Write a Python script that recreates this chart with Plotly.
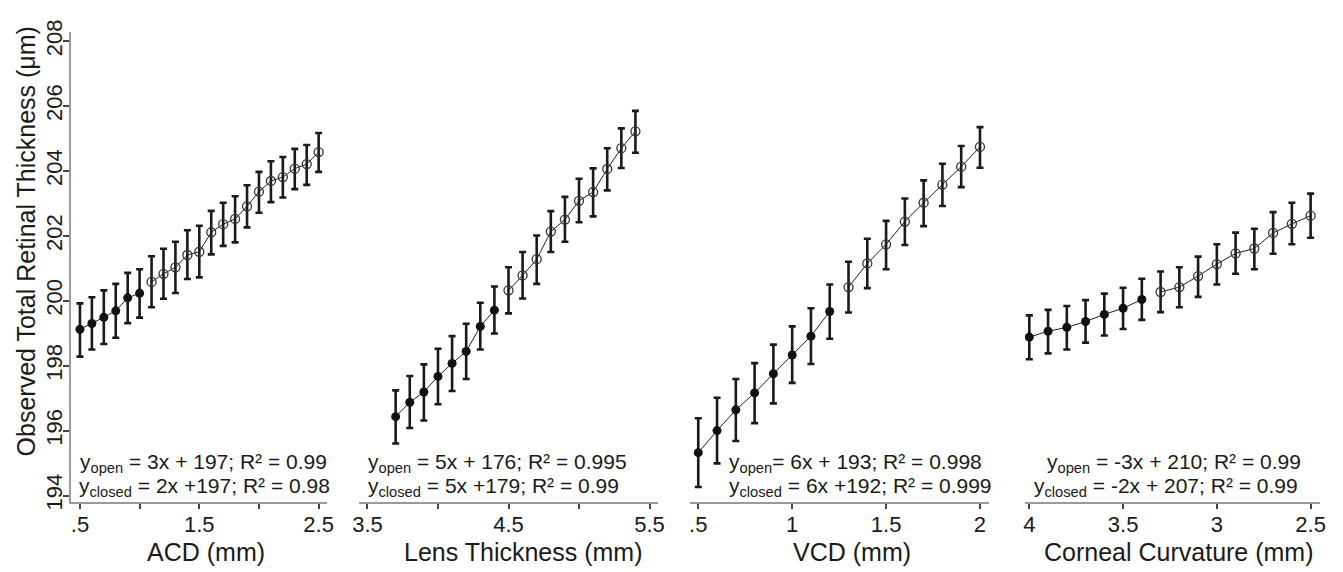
import plotly.graph_objects as go

# ---------------- data ----------------
acd_x = [0.5, 0.6, 0.7, 0.8, 0.9, 1.0, 1.1, 1.2, 1.3, 1.4, 1.5, 1.6, 1.7, 1.8, 1.9, 2.0, 2.1, 2.2, 2.3, 2.4, 2.5]
acd_y = [199.12, 199.30, 199.49, 199.69, 200.09, 200.23, 200.58, 200.83, 201.03, 201.41, 201.51,
         202.11, 202.36, 202.52, 202.91, 203.36, 203.69, 203.81, 204.07, 204.21, 204.58]
acd_hi = [199.92, 200.11, 200.32, 200.52, 200.86, 200.97, 201.37, 201.60, 201.82, 202.17, 202.31,
          202.77, 203.02, 203.22, 203.56, 203.97, 204.30, 204.43, 204.68, 204.80, 205.17]
acd_lo = [198.28, 198.50, 198.67, 198.86, 199.31, 199.48, 199.80, 200.06, 200.24, 200.67, 200.72,
          201.43, 201.69, 201.80, 202.26, 202.71, 203.04, 203.18, 203.44, 203.57, 203.97]
acd_closed_n = 6

lens_x = [3.7, 3.8, 3.9, 4.0, 4.1, 4.2, 4.3, 4.4, 4.5, 4.6, 4.7, 4.8, 4.9, 5.0, 5.1, 5.2, 5.3, 5.4]
lens_y = [196.43, 196.87, 197.19, 197.67, 198.07, 198.44, 199.21, 199.71, 200.32, 200.78, 201.28,
          202.13, 202.50, 203.08, 203.35, 204.06, 204.70, 205.22]
lens_hi = [197.24, 197.68, 198.04, 198.52, 198.91, 199.29, 199.94, 200.44, 201.03, 201.50, 202.01,
           202.76, 203.20, 203.76, 204.08, 204.70, 205.31, 205.85]
lens_lo = [195.60, 196.08, 196.31, 196.81, 197.22, 197.59, 198.50, 198.99, 199.61, 200.07, 200.52,
           201.50, 201.82, 202.42, 202.60, 203.40, 204.09, 204.56]
lens_closed_n = 8

vcd_x = [0.5, 0.6, 0.7, 0.8, 0.9, 1.0, 1.1, 1.2, 1.3, 1.4, 1.5, 1.6, 1.7, 1.8, 1.9, 2.0]
vcd_y = [195.32, 196.00, 196.64, 197.16, 197.75, 198.33, 198.91, 199.67, 200.42, 201.15, 201.74,
         202.44, 203.02, 203.58, 204.13, 204.74]
vcd_hi = [196.38, 197.01, 197.59, 198.08, 198.65, 199.21, 199.77, 200.50, 201.20, 201.91, 202.46,
          203.15, 203.71, 204.22, 204.77, 205.35]
vcd_lo = [194.26, 194.99, 195.68, 196.23, 196.84, 197.47, 198.05, 198.83, 199.64, 200.39, 200.97,
          201.72, 202.30, 202.92, 203.50, 204.10]
vcd_closed_n = 8

cc_x = [4.0, 3.9, 3.8, 3.7, 3.6, 3.5, 3.4, 3.3, 3.2, 3.1, 3.0, 2.9, 2.8, 2.7, 2.6, 2.5]
cc_y = [198.88, 199.06, 199.18, 199.36, 199.58, 199.77, 200.04, 200.27, 200.42, 200.76, 201.13,
        201.46, 201.61, 202.09, 202.37, 202.62]
cc_hi = [199.55, 199.72, 199.84, 200.02, 200.22, 200.40, 200.68, 200.90, 201.03, 201.36, 201.74,
         202.10, 202.22, 202.73, 203.02, 203.30]
cc_lo = [198.20, 198.38, 198.50, 198.71, 198.93, 199.13, 199.41, 199.65, 199.80, 200.12, 200.50,
         200.83, 200.97, 201.45, 201.74, 201.94]
cc_closed_n = 7

y_tickvals = [194, 196, 198, 200, 202, 204, 206, 208]
acd_ticks = [0.5, 1.5, 2.5]
acd_ticktext = [".5", "1.5", "2.5"]
acd_minor = [1.0, 2.0]
lens_ticks = [3.5, 4.5, 5.5]
lens_ticktext = ["3.5", "4.5", "5.5"]
lens_minor = [4.0, 5.0]
vcd_ticks = [0.5, 1.0, 1.5, 2.0]
vcd_ticktext = [".5", "1", "1.5", "2"]
vcd_minor = []
cc_ticks = [4.0, 3.5, 3.0, 2.5]
cc_ticktext = ["4", "3.5", "3", "2.5"]
cc_minor = []

y_title = "Observed Total Retinal Thickness (μm)"
x_titles = ["ACD (mm)", "Lens Thickness (mm)", "VCD (mm)", "Corneal Curvature (mm)"]
eq_open = ["y<sub>open</sub> = 3x + 197; R² = 0.99",
           "y<sub>open</sub> = 5x + 176; R² = 0.995",
           "y<sub>open</sub>= 6x + 193; R² = 0.998",
           "y<sub>open</sub> = -3x + 210; R² = 0.99"]
eq_closed = ["y<sub>closed</sub> = 2x +197; R² = 0.98",
             "y<sub>closed</sub> = 5x +179; R² = 0.99",
             "y<sub>closed</sub> = 6x +192; R² = 0.999",
             "y<sub>closed</sub> = -2x + 207; R² = 0.99"]

# ---------------- geometry ----------------
# The page body has an 8px default margin, so the figure is a bit smaller
# and positions below are given in page pixels, then shifted.
OFF = 8
W, H = 1335, 564
ML, MR, MT, MB = 63, 23, 16, 70
PW, PH = W - ML - MR, H - MT - MB


def fx(page_x):
    return (page_x - OFF - ML) / PW


def fy(page_y):
    return (H - MB - (page_y - OFF)) / PH


FONT = "Liberation Sans, Arial, sans-serif"
INK = "#1a1a1a"

fig = go.Figure()

panels = [
    (acd_x, acd_y, acd_hi, acd_lo, acd_closed_n, "x"),
    (lens_x, lens_y, lens_hi, lens_lo, lens_closed_n, "x2"),
    (vcd_x, vcd_y, vcd_hi, vcd_lo, vcd_closed_n, "x3"),
    (cc_x, cc_y, cc_hi, cc_lo, cc_closed_n, "x4"),
]

for xs, ys, hi, lo, nc, xa in panels:
    plus = [h - v for h, v in zip(hi, ys)]
    minus = [v - l for v, l in zip(ys, lo)]
    groups = [
        (slice(0, nc), dict(symbol="circle", size=9, color="#111111")),
        (slice(nc, len(xs)), dict(symbol="circle-open", size=9, color="#333333", line=dict(width=1.3))),
    ]
    for sl, mk in groups:
        fig.add_trace(go.Scatter(
            x=xs[sl], y=ys[sl], xaxis=xa, yaxis="y",
            mode="lines+markers",
            line=dict(color="#222222", width=1),
            marker=mk,
            error_y=dict(type="data", symmetric=False, array=plus[sl], arrayminus=minus[sl],
                         color=INK, thickness=2.6, width=3.5),
            showlegend=False,
        ))

axis_common = dict(showline=True, linecolor="#9a9a9a", linewidth=2, ticks="outside",
                   ticklen=5, tickwidth=1.5, tickcolor="#444444", showgrid=False,
                   zeroline=False, tickfont=dict(size=22, color=INK, family=FONT),
                   ticklabelstandoff=-3, anchor="y")

domains = [(71, 327), (359, 658), (690, 989), (1025, 1320)]
ranges = [[0.425, 2.57], [3.44, 5.56], [0.456, 2.048], [4.023, 2.45]]
ticks = [(acd_ticks, acd_ticktext, acd_minor), (lens_ticks, lens_ticktext, lens_minor),
         (vcd_ticks, vcd_ticktext, vcd_minor), (cc_ticks, cc_ticktext, cc_minor)]

layout = dict(
    width=W, height=H,
    margin=dict(l=ML, r=MR, t=MT, b=MB, pad=0),
    paper_bgcolor="white", plot_bgcolor="white",
    font=dict(family=FONT, color=INK),
    showlegend=False,
    yaxis=dict(domain=[0, 1], range=[193.80, 208.28], anchor="x",
               showline=True, linecolor="#9a9a9a", linewidth=2, ticks="outside",
               ticklen=6, tickwidth=1.5, tickcolor="#444444", showgrid=False,
               zeroline=False, tickvals=y_tickvals, tickangle=-90,
               ticklabelstandoff=-8,
               tickfont=dict(size=22, color=INK, family=FONT)),
)
for i, ((d0, d1), rg, (tv, tt, mv)) in enumerate(zip(domains, ranges, ticks)):
    key = "xaxis" if i == 0 else f"xaxis{i+1}"
    ax = dict(axis_common, domain=[max(0.0, fx(d0)), min(1.0, fx(d1))],
              range=rg, tickvals=tv, ticktext=tt)
    if mv:
        ax["minor"] = dict(tickvals=mv, ticks="outside", ticklen=5, tickwidth=1.5,
                           tickcolor="#444444", showgrid=False)
    layout[key] = ax
fig.update_layout(**layout)

annotations = []
open_left = [78, 366, 727, 1045]
closed_left = [77, 366, 727, 1032]
title_cx = [205.6, 523.6, 851.7, 1178.5]
for i in range(4):
    annotations.append(dict(text=eq_open[i], xref="paper", yref="paper",
                            x=fx(open_left[i]), y=fy(462), xanchor="left", yanchor="middle",
                            showarrow=False, font=dict(size=21, color=INK, family=FONT)))
    annotations.append(dict(text=eq_closed[i], xref="paper", yref="paper",
                            x=fx(closed_left[i]), y=fy(487), xanchor="left", yanchor="middle",
                            showarrow=False, font=dict(size=21, color=INK, family=FONT)))
    annotations.append(dict(text=x_titles[i], xref="paper", yref="paper",
                            x=fx(title_cx[i]), y=fy(553), xanchor="center", yanchor="middle",
                            showarrow=False, font=dict(size=25, color=INK, family=FONT)))
annotations.append(dict(text=y_title, xref="paper", yref="paper",
                        x=fx(26), y=fy(237), xanchor="center", yanchor="middle",
                        textangle=-90, showarrow=False,
                        font=dict(size=25, color=INK, family=FONT)))
fig.update_layout(annotations=annotations)

fig.write_html("out.html")
